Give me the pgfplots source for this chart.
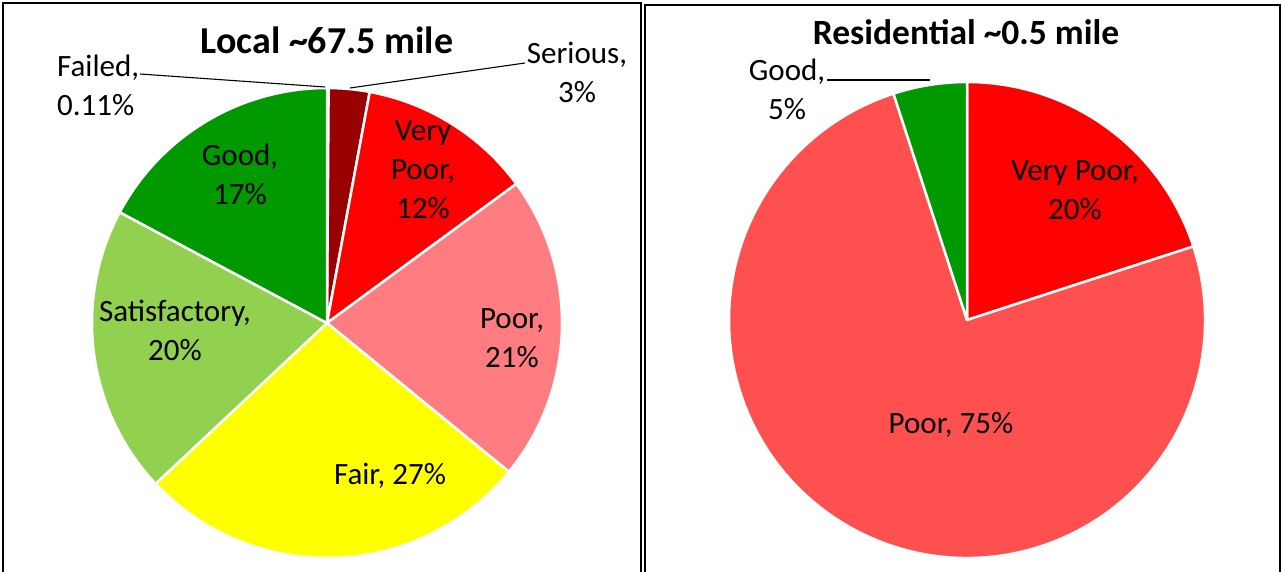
\documentclass[border=0pt]{standalone}
\usepackage{pgfplots}
\usepackage{pgfplotstable}
\pgfplotsset{compat=1.18}
\usepackage{fontspec}
\setmainfont{Carlito}

\definecolor{cFailed}{HTML}{7F0000}
\definecolor{cSerious}{HTML}{990000}
\definecolor{cVeryPoor}{HTML}{FF0000}
\definecolor{cPoor}{HTML}{FF7C80}
\definecolor{cFair}{HTML}{FFFF00}
\definecolor{cSat}{HTML}{92D050}
\definecolor{cGood}{HTML}{009900}
\definecolor{cPoorR}{HTML}{FF5050}

% Local ~67.5 mile (percent, clockwise from 12 o'clock)
\pgfplotstableread[col sep=comma]{
label,value,color
Failed,0.11,cFailed
Serious,2.8,cSerious
VeryPoor,12.0,cVeryPoor
Poor,21.0,cPoor
Fair,27.1,cFair
Satisfactory,19.8,cSat
Good,17.2,cGood
}\localtable

% Residential ~0.5 mile
\pgfplotstableread[col sep=comma]{
label,value,color
VeryPoor,20,cVeryPoor
Poor,75,cPoorR
Good,5,cGood
}\restable

\newcommand\drawpie[4]{%
  \pgfplotstablegetrowsof{#1}%
  \pgfmathtruncatemacro\lastrow{\pgfplotsretval-1}%
  \def\cum{0}%
  \pgfplotsforeachungrouped \i in {0,...,\lastrow}{%
    \pgfplotstablegetelem{\i}{value}\of#1\let\v\pgfplotsretval
    \pgfplotstablegetelem{\i}{color}\of#1\let\c\pgfplotsretval
    \pgfmathsetmacro\a{90-3.6*\cum}%
    \pgfmathsetmacro\b{90-3.6*(\cum+\v)}%
    \edef\temp{\noexpand\fill[fill=\c,draw=white,line width=2.5pt,line join=round]
      (axis cs:#2,#3) -- ++(\a:#4pt) arc[start angle=\a,end angle=\b,radius=#4pt] -- cycle;}%
    \temp
    \pgfmathsetmacro\cum{\cum+\v}%
  }%
}

\tikzset{lab/.style={font=\fontsize{31}{39}\selectfont,align=center,inner sep=0pt},
  ttl/.style={font=\fontsize{38}{44}\selectfont\bfseries,inner sep=0pt}}

\begin{document}
\begin{tikzpicture}
\useasboundingbox (0,0) rectangle (1283pt,571pt);
\pgfplotsset{panel/.style={x=1pt,y=1pt,anchor=south west,ticks=none,clip=false,
  axis line style={black,line width=1.6pt}}}

\begin{axis}[panel,at={(3pt,-20pt)},xmin=3,xmax=641,ymin=-20,ymax=568]
  \drawpie{\localtable}{327}{248}{235}
  \node[ttl] at (axis cs:327,531) {Local \textasciitilde67.5 mile};
  \draw[black,line width=1.1pt] (axis cs:140,497) -- (axis cs:325,484);
  \draw[black,line width=1.1pt] (axis cs:525,508) -- (axis cs:350,483);
  \node[lab,anchor=west,align=left] at (axis cs:57,486) {Failed,\\0.11\%};
  \node[lab] at (axis cs:577,499) {Serious,\\3\%};
  \node[lab] at (axis cs:423,401) {Very\\Poor,\\12\%};
  \node[lab] at (axis cs:512,233) {Poor,\\21\%};
  \node[lab] at (axis cs:390,95) {Fair, 27\%};
  \node[lab] at (axis cs:175,241) {Satisfactory,\\20\%};
  \node[lab] at (axis cs:240,397) {Good,\\17\%};
\end{axis}

\begin{axis}[panel,at={(645pt,-20pt)},xmin=645,xmax=1280,ymin=-20,ymax=566]
  \drawpie{\restable}{967}{251}{238}
  \node[ttl,font=\fontsize{35.5}{42}\selectfont\bfseries] at (axis cs:966,539) {Residential \textasciitilde0.5 mile};
  \draw[black,line width=1.1pt] (axis cs:827,491) -- (axis cs:930,491);
  \node[lab] at (axis cs:787,482) {Good,\\5\%};
  \node[lab] at (axis cs:1075,381) {Very Poor,\\20\%};
  \node[lab] at (axis cs:951,146) {Poor, 75\%};
\end{axis}
\end{tikzpicture}
\end{document}
